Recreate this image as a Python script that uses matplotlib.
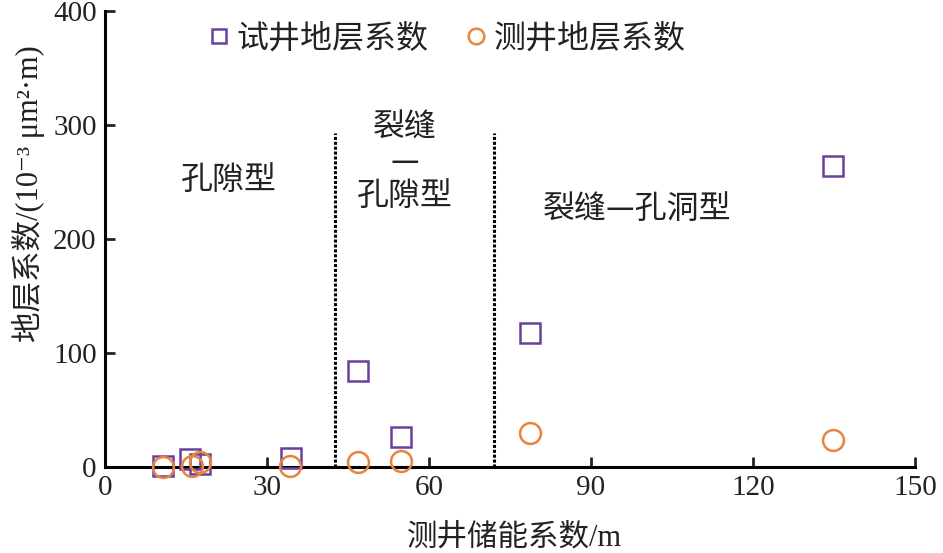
import matplotlib
matplotlib.use("Agg")
import matplotlib.pyplot as plt

plt.rcParams['font.family'] = ['Liberation Serif', 'Noto Sans CJK SC', 'DejaVu Sans']

# 试井地层系数
test_x = [10.7, 15.8, 17.6, 34.5, 46.8, 54.9, 78.7, 134.8]
test_y = [1, 7, 3, 8, 84, 26, 118, 264]
# 测井地层系数
log_x = [10.7, 16.2, 17.6, 34.3, 46.8, 54.9, 78.7, 134.8]
log_y = [0, 1, 4, 1, 4, 5, 30, 24]

bounds = [42.6, 72.0]
xticks = [0, 30, 60, 90, 120, 150]
yticks = [0, 100, 200, 300, 400]

purple = '#6a3f9f'
orange = '#e8843c'
serif_cjk = ['Liberation Serif', 'Noto Sans CJK SC', 'DejaVu Sans']
cjk = ['Noto Sans CJK SC', 'DejaVu Sans']
fs_cn = 22
fs_num = 21
ink = '#222222'

fig = plt.figure(figsize=(9.43, 5.53), dpi=100)
ax = fig.add_axes([0.1113, 0.1555, 0.859, 0.8245])

ax.plot(test_x, test_y, 's', ms=14, mfc='none', mec=purple, mew=1.8,
        label='试井地层系数', clip_on=False, zorder=3)
ax.plot(log_x, log_y, 'o', ms=15, mfc='none', mec=orange, mew=1.8,
        label='测井地层系数', clip_on=False, zorder=3)

for b in bounds:
    ax.plot([b, b], [0, 293], color='black', lw=2.2, ls=(0, (1, 0.6)))

kw = dict(fontsize=23, family=cjk, weight='medium', ha='center', va='center', color=ink)
ax.text(23, 252, '孔隙型', **kw)
ax.text(55.5, 298, '裂缝', **kw)
ax.text(55.5, 268, '—', **kw)
ax.text(55.5, 238, '孔隙型', **kw)
ax.text(98.5, 226, '裂缝—孔洞型', **kw)

ax.set_xlim(0, 150)
ax.set_ylim(0, 400)
ax.set_xticks(xticks)
ax.set_yticks(yticks)
ax.tick_params(direction='in', length=7, width=2, labelsize=fs_num, pad=6, colors=ink)
for s in ['top', 'right']:
    ax.spines[s].set_visible(False)
for s in ['left', 'bottom']:
    ax.spines[s].set_linewidth(2.2)

ax.set_xlabel('测井储能系数/m', fontsize=fs_cn, family=serif_cjk, weight='medium', color=ink)
ax.xaxis.set_label_coords(0.505, -0.125)
ax.set_ylabel('地层系数/(10⁻³ μm²·m)', fontsize=fs_cn, family=serif_cjk, weight='medium', color=ink)
ax.yaxis.set_label_coords(-0.074, 0.6)

leg = ax.legend(loc='center left', bbox_to_anchor=(0.085, 0.94), ncol=2, frameon=False,
                handletextpad=0.05, columnspacing=1.0, handlelength=1.0, markerscale=0.75,
                prop={'family': cjk, 'size': 23, 'weight': 'medium'})
for t in leg.get_texts():
    t.set_color(ink)

fig.savefig('out.png', dpi=100)
